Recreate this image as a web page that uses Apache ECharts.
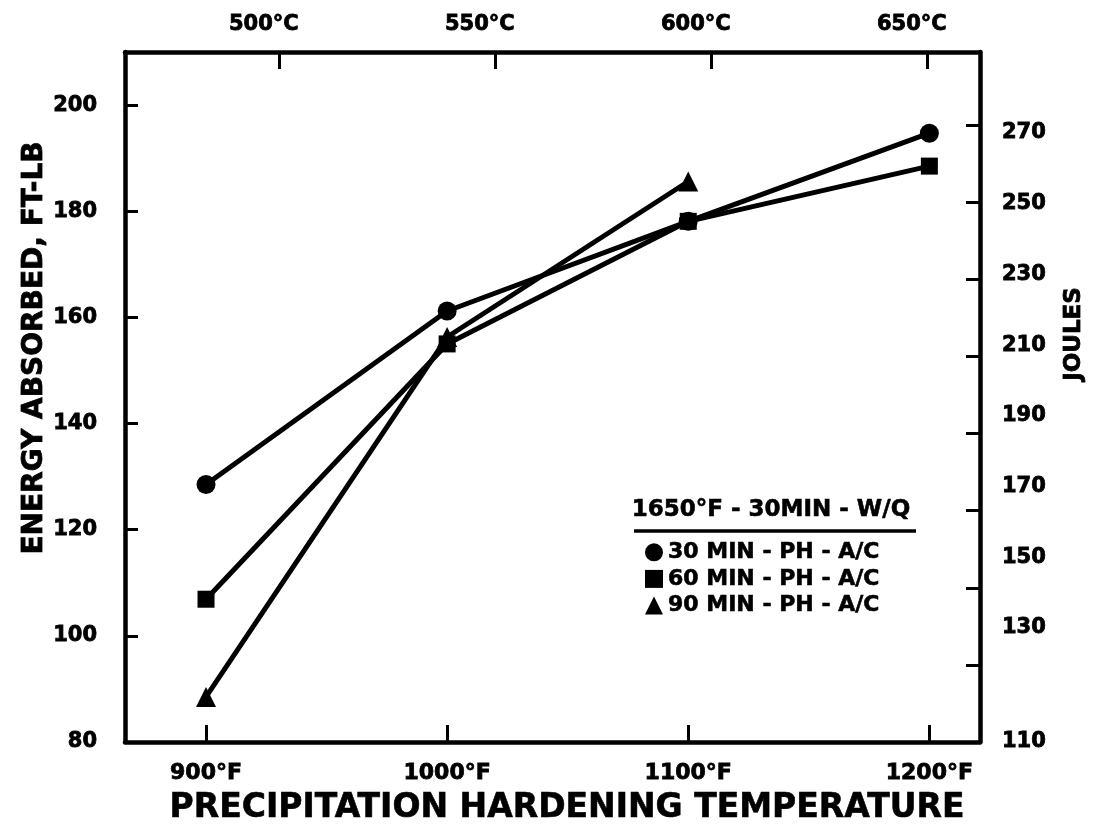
<!DOCTYPE html>
<html>
<head>
<meta charset="utf-8">
<script src="https://cdn.jsdelivr.net/npm/echarts@6/dist/echarts.min.js"></script>
<style>
html,body{margin:0;padding:0;background:#fff;}
#chart{width:1094px;height:834px;}
</style>
</head>
<body>
<div id="chart"></div>
<script>
// ---- data ----
var tempsF = [900, 1000, 1100, 1200];
var tempsC = [500, 550, 600, 650];
var ftlbTicks = [80, 100, 120, 140, 160, 180, 200];
var jouleTicks = [110, 130, 150, 170, 190, 210, 230, 250, 270];
var seriesNames = ['30 MIN - PH - A/C', '60 MIN - PH - A/C', '90 MIN - PH - A/C'];
var min30 = [128.5, 161.2, 178.1, 194.7];
var min60 = [106.9, 155.0, 178.1, 188.5];
var min90 = [88.5, 156.3, 185.6, null];
var legendHeader = '1650°F - 30MIN - W/Q';

function pairs(vals) {
  var out = [];
  for (var i = 0; i < tempsF.length; i++) {
    if (vals[i] != null) out.push([tempsF[i], vals[i]]);
  }
  return out;
}

var FONT = 'DejaVu Sans';
var lineAxis = { show: true, lineStyle: { color: '#000', width: 4.5 } };
function lbl(extra) {
  var o = { color: '#000', fontFamily: FONT, fontWeight: 'bold', fontSize: 21, textBorderColor: '#000', textBorderWidth: 0.8 };
  for (var k in extra) o[k] = extra[k];
  return o;
}

var chart = echarts.init(document.getElementById('chart'), null, { renderer: 'canvas' });

var option = {
  backgroundColor: '#fff',
  animation: false,
  grid: { left: 125, right: 114, top: 52, bottom: 92 },
  xAxis: [
    {
      type: 'value', position: 'bottom', min: 866.4, max: 1221,
      axisLine: lineAxis,
      splitLine: { show: false },
      axisTick: { show: true, inside: true, length: 17, lineStyle: { color: '#000', width: 3 }, customValues: tempsF },
      axisLabel: lbl({ customValues: tempsF, margin: 20, fontSize: 22,
        formatter: function (v) { return v + '°F'; } })
    },
    {
      type: 'value', position: 'top', min: 464.4, max: 662.3,
      axisLine: lineAxis,
      splitLine: { show: false },
      axisTick: { show: true, inside: true, length: 17, lineStyle: { color: '#000', width: 3 }, customValues: tempsC },
      axisLabel: lbl({ customValues: tempsC, margin: 17, padding: [0, 30, 0, 0],
        formatter: function (v) { return v + '°C'; } })
    }
  ],
  yAxis: [
    {
      type: 'value', position: 'left', min: 80, max: 210,
      axisLine: lineAxis,
      splitLine: { show: false },
      axisTick: { show: true, inside: true, length: 13, lineStyle: { color: '#000', width: 3 }, customValues: ftlbTicks.slice(1) },
      axisLabel: lbl({ customValues: ftlbTicks, margin: 28 })
    },
    {
      // joule scale: ticks (label only at the bottom value)
      type: 'value', position: 'right', min: 110, max: 289,
      axisLine: lineAxis,
      splitLine: { show: false },
      axisTick: { show: true, inside: true, length: 14, lineStyle: { color: '#000', width: 3 }, customValues: jouleTicks.slice(1) },
      axisLabel: lbl({ customValues: jouleTicks.slice(0, 1), margin: 22 })
    },
    {
      // joule labels as printed in the original (slightly compressed spacing)
      type: 'value', position: 'right', min: 97.76, max: 292.9,
      axisLine: { show: false },
      splitLine: { show: false },
      axisTick: { show: false },
      axisLabel: lbl({ customValues: jouleTicks.slice(1), margin: 22 })
    }
  ],
  legend: {
    orient: 'vertical', left: 640, top: 536, itemGap: 4, itemWidth: 18, itemHeight: 18,
    textStyle: { color: '#000', fontFamily: FONT, fontWeight: 'bold', fontSize: 22, textBorderColor: '#000', textBorderWidth: 0.6 },
    data: [
      { name: seriesNames[0], icon: 'circle' },
      { name: seriesNames[1], icon: 'rect' },
      { name: seriesNames[2], icon: 'triangle' }
    ]
  },
  graphic: [
    { type: 'text', x: 35, y: 348, rotation: Math.PI / 2,
      style: { text: 'ENERGY ABSORBED, FT-LB', fill: '#000', font: 'bold 28px "DejaVu Sans"', textAlign: 'center', textVerticalAlign: 'middle', stroke: '#000', lineWidth: 0.8 } },
    { type: 'text', x: 1074, y: 334, rotation: Math.PI / 2,
      style: { text: 'JOULES', fill: '#000', font: 'bold 23px "DejaVu Sans"', textAlign: 'center', textVerticalAlign: 'middle', stroke: '#000', lineWidth: 0.8 } },
    { type: 'text', x: 567, y: 808,
      style: { text: 'PRECIPITATION HARDENING TEMPERATURE', fill: '#000', font: 'bold 33px "DejaVu Sans"', textAlign: 'center', textVerticalAlign: 'middle', stroke: '#000', lineWidth: 0.6 } },
    { type: 'text', x: 771, y: 510,
      style: { text: legendHeader, fill: '#000', font: 'bold 23px "DejaVu Sans"', textAlign: 'center', textVerticalAlign: 'middle', stroke: '#000', lineWidth: 0.6 } },
    { type: 'line', shape: { x1: 634, y1: 531, x2: 916, y2: 531 }, style: { stroke: '#000', lineWidth: 3.5 } }
  ],
  series: [
    { name: seriesNames[0], type: 'line', xAxisIndex: 0, yAxisIndex: 0, data: pairs(min30),
      symbol: 'circle', symbolSize: 19, lineStyle: { color: '#000', width: 5 }, itemStyle: { color: '#000' } },
    { name: seriesNames[1], type: 'line', xAxisIndex: 0, yAxisIndex: 0, data: pairs(min60),
      symbol: 'rect', symbolSize: 17, lineStyle: { color: '#000', width: 5 }, itemStyle: { color: '#000' } },
    { name: seriesNames[2], type: 'line', xAxisIndex: 0, yAxisIndex: 0, data: pairs(min90),
      symbol: 'triangle', symbolSize: 20, lineStyle: { color: '#000', width: 5 }, itemStyle: { color: '#000' } }
  ]
};
chart.setOption(option);
</script>
</body>
</html>
